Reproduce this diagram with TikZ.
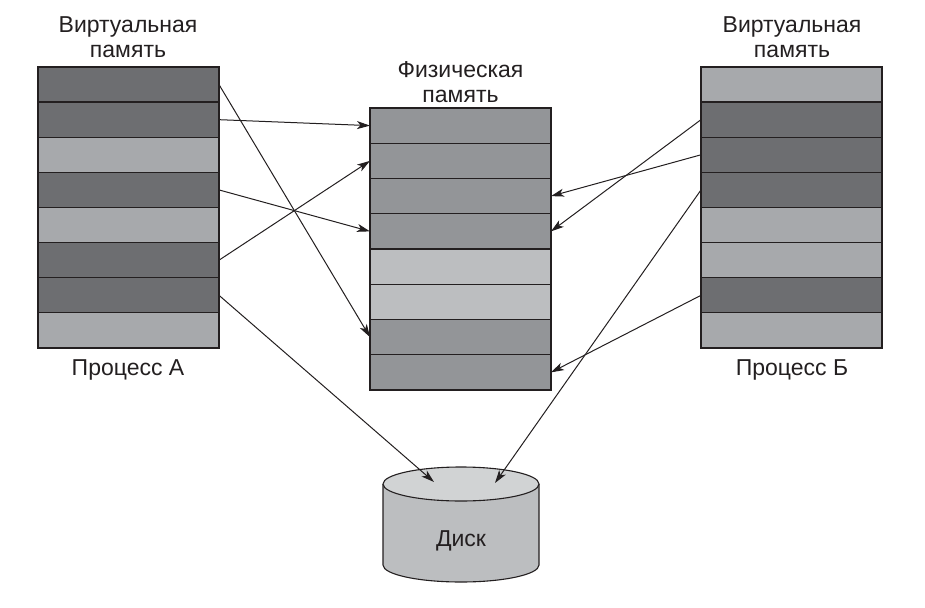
\documentclass[tikz,border=0pt]{standalone}
\usepackage{fontspec}
\setmainfont{Liberation Sans}
\usetikzlibrary{arrows.meta}
\definecolor{dk}{HTML}{6D6E71}
\definecolor{lt}{HTML}{A7A9AC}
\definecolor{md}{HTML}{939598}
\definecolor{ml}{HTML}{BCBEC0}
\definecolor{dsktop}{HTML}{D1D3D4}
\definecolor{dskside}{HTML}{BCBEC0}
\definecolor{ink}{HTML}{231F20}
\begin{document}
\begin{tikzpicture}[x=1pt,y=-1pt,
  cell/.style={draw=ink, line width=1.2pt, minimum width=181pt, minimum height=35.1pt, inner sep=0pt, outer sep=0pt, anchor=north west},
  conn/.style={draw=ink, line width=1pt, -{Stealth[length=13pt,width=8pt,inset=3.5pt]}},
  lbl/.style={font=\fontsize{23}{25}\selectfont, align=center, text=ink, inner sep=0pt}]
\useasboundingbox (0,0) rectangle (925,607);
% left column
\foreach \c [count=\i] in {dk,dk,lt,dk,lt,dk,dk,lt}
  \node[cell, fill=\c] (L\i) at (38,{67+35.125*(\i-1)}) {};
% middle column
\foreach \c [count=\i] in {md,md,md,md,ml,ml,md,md}
  \node[cell, fill=\c, minimum height=35.25pt] (M\i) at (370,{108+35.25*(\i-1)}) {};
% right column
\foreach \c [count=\i] in {lt,dk,dk,dk,lt,lt,dk,lt}
  \node[cell, fill=\c] (R\i) at (701,{67+35.125*(\i-1)}) {};
% labels
\node[lbl] (vl) at (128,37.5) {Виртуальная\\память};
\node[lbl] (vr) at (792,37.5) {Виртуальная\\память};
\node[lbl] (ph) at (460.5,82) {Физическая\\память};
\node[lbl] (pa) at (128,370) {Процесс А};
\node[lbl] (pb) at (792,370) {Процесс Б};
% disk
\fill[dskside] (383,484) -- (383,565) arc[start angle=180, end angle=0, x radius=78, y radius=17] -- (539,484) -- cycle;
\draw[ink, line width=1.1pt] (383,484) -- (383,565) arc[start angle=180, end angle=0, x radius=78, y radius=17] -- (539,484);
\draw[ink, line width=1.1pt, fill=dsktop] (461,484) ellipse [x radius=78, y radius=17];
\node[lbl] (disk) at (461,541) {Диск};
\coordinate (dA) at (434,482);
\coordinate (dB) at (495,483);
% connectors
\draw[conn] (L1.east) -- (M7.west);
\draw[conn] (L2.east) -- (M1.west);
\draw[conn] (L4.east) -- (M4.west);
\draw[conn] (L6.east) -- (M2.west);
\draw[conn] (L7.east) -- (dA);
\draw[conn] (R2.west) -- (M4.east);
\draw[conn] (R3.west) -- (M3.east);
\draw[conn] (R4.west) -- (dB);
\draw[conn] (R7.west) -- (M8.east);
\end{tikzpicture}
\end{document}
